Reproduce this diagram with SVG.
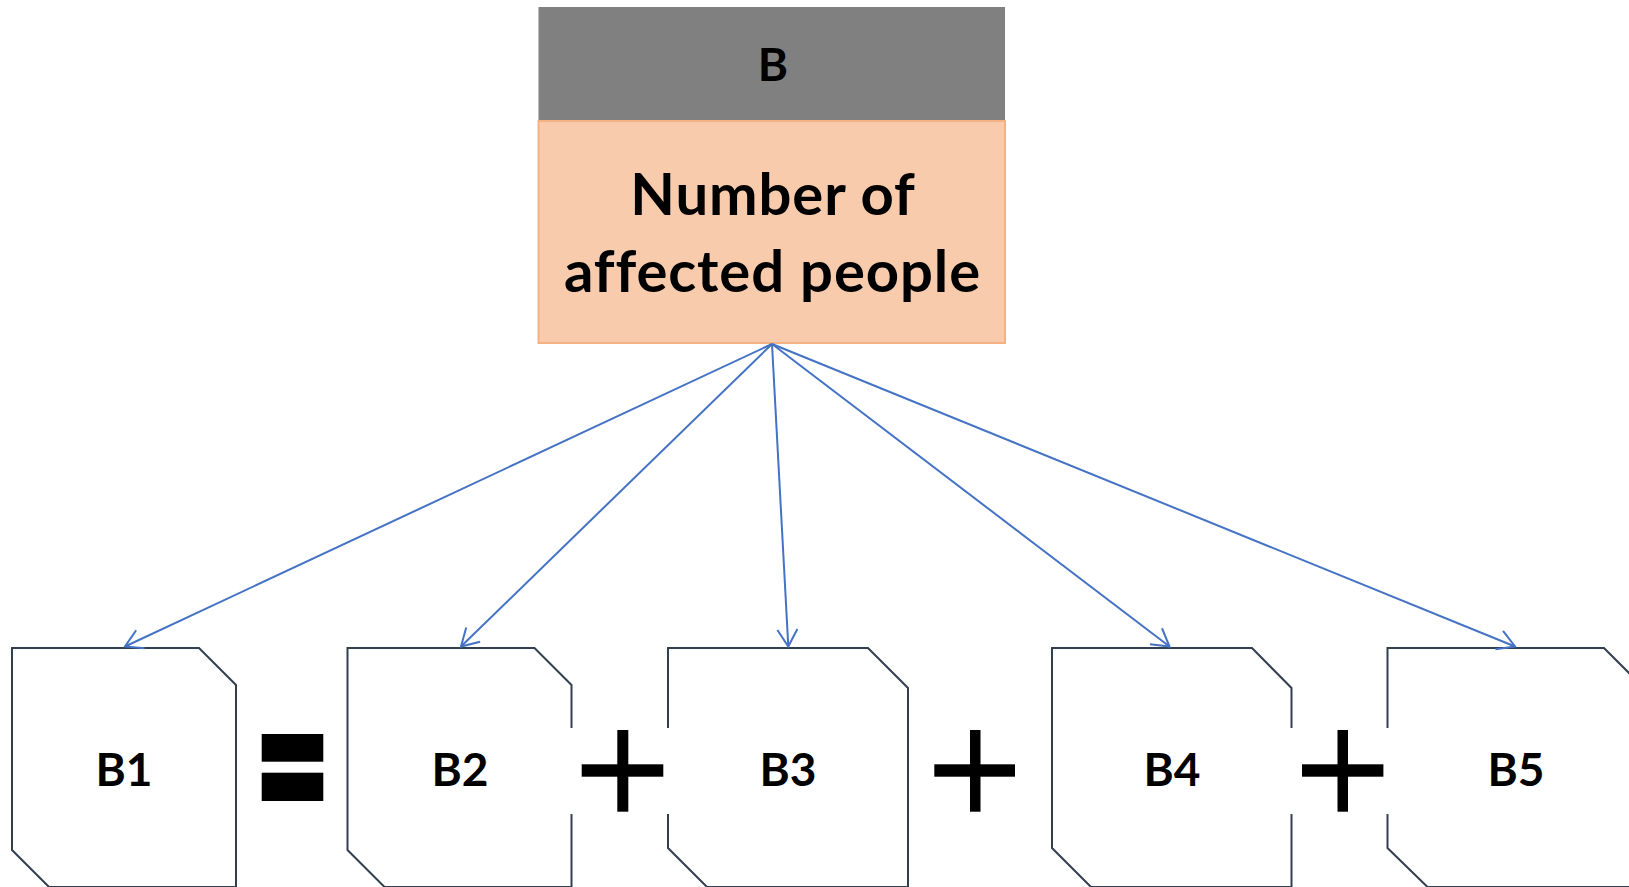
<svg xmlns="http://www.w3.org/2000/svg" width="1629" height="887" viewBox="0 0 1629 887">
<style>
.node{fill:#ffffff;stroke:#323f4f;stroke-width:2;stroke-linejoin:miter}
.lbl{font-family:Lato,"Liberation Sans",sans-serif;font-weight:bold;fill:#000000;text-anchor:middle;font-variant-ligatures:none}
.big{letter-spacing:0.9px}
.conn{stroke:#4472c4;stroke-width:2;fill:none;marker-end:url(#arr)}
.op{fill:#000000}
.cover{fill:#ffffff}
</style>
<defs>
<marker id="arr" markerUnits="userSpaceOnUse" markerWidth="30" markerHeight="30" refX="0" refY="0" viewBox="-20 -15 30 30" orient="auto" overflow="visible">
<path d="M-17,-10 L0,0 L-17,10" fill="none" stroke="#4472c4" stroke-width="2"/>
</marker>
</defs>
<rect width="1629" height="887" fill="#ffffff"/>
<g id="node-B">
<rect x="538.5" y="7" width="466.5" height="114" fill="#808080"/>
<rect x="538.5" y="121" width="466.5" height="222" fill="#f8cbad" stroke="#f4b183" stroke-width="2"/>
<text class="lbl" x="773" y="81" font-size="46">B</text>
<text class="lbl big" x="773" y="215" font-size="58">Number of</text>
<text class="lbl big" x="772.5" y="291.5" font-size="58">affected people</text>
</g>
<g id="node-B1">
<path class="node" d="M12,648 L199,648 L236,685 L236,887 L49,887 L12,850 Z"/>
<text class="lbl" x="124" y="785.5" font-size="46">B1</text>
</g>
<g id="node-B2">
<path class="node" d="M347.5,648 L534.5,648 L571.5,685 L571.5,887 L384.5,887 L347.5,850 Z"/>
<text class="lbl" x="460" y="785.5" font-size="46">B2</text>
</g>
<g id="node-B3">
<path class="node" d="M668,648 L868,648 L908,688 L908,887 L707,887 L668,848 Z"/>
<text class="lbl" x="788" y="785.5" font-size="46">B3</text>
</g>
<g id="node-B4">
<path class="node" d="M1052,648 L1252,648 L1291.5,688 L1291.5,887 L1091,887 L1052,848 Z"/>
<text class="lbl" x="1172" y="785.5" font-size="46">B4</text>
</g>
<g id="node-B5">
<path class="node" d="M1387.5,648 L1604,648 L1644,688 L1644,887 L1427.5,887 L1387.5,848 Z"/>
<text class="lbl" x="1516" y="785.5" font-size="46">B5</text>
</g>
<g id="operators">
<rect class="op" x="261.7" y="734" width="61.6" height="27.7"/>
<rect class="op" x="261.7" y="772.7" width="61.6" height="28.3"/>
<rect class="cover" x="569.8" y="728" width="100.4" height="86"/>
<rect class="op" x="581.7" y="764.3" width="81.6" height="12.4"/>
<rect class="op" x="617.3" y="730" width="11" height="81.7"/>
<rect class="op" x="934.3" y="764.3" width="80.7" height="12.4"/>
<rect class="op" x="970" y="730" width="10.5" height="81.7"/>
<rect class="cover" x="1289.8" y="728" width="99.4" height="86"/>
<rect class="op" x="1302" y="764.3" width="81.4" height="12.4"/>
<rect class="op" x="1337.5" y="730" width="10.5" height="81.7"/>
</g>
<g id="connectors">
<line class="conn" x1="772" y1="344" x2="125" y2="646.5"/>
<line class="conn" x1="772" y1="344" x2="461" y2="646.5"/>
<line class="conn" x1="772" y1="344" x2="788.3" y2="646.5"/>
<line class="conn" x1="772" y1="344" x2="1169.5" y2="646.5"/>
<line class="conn" x1="772" y1="344" x2="1515" y2="646.5"/>
</g>
</svg>
